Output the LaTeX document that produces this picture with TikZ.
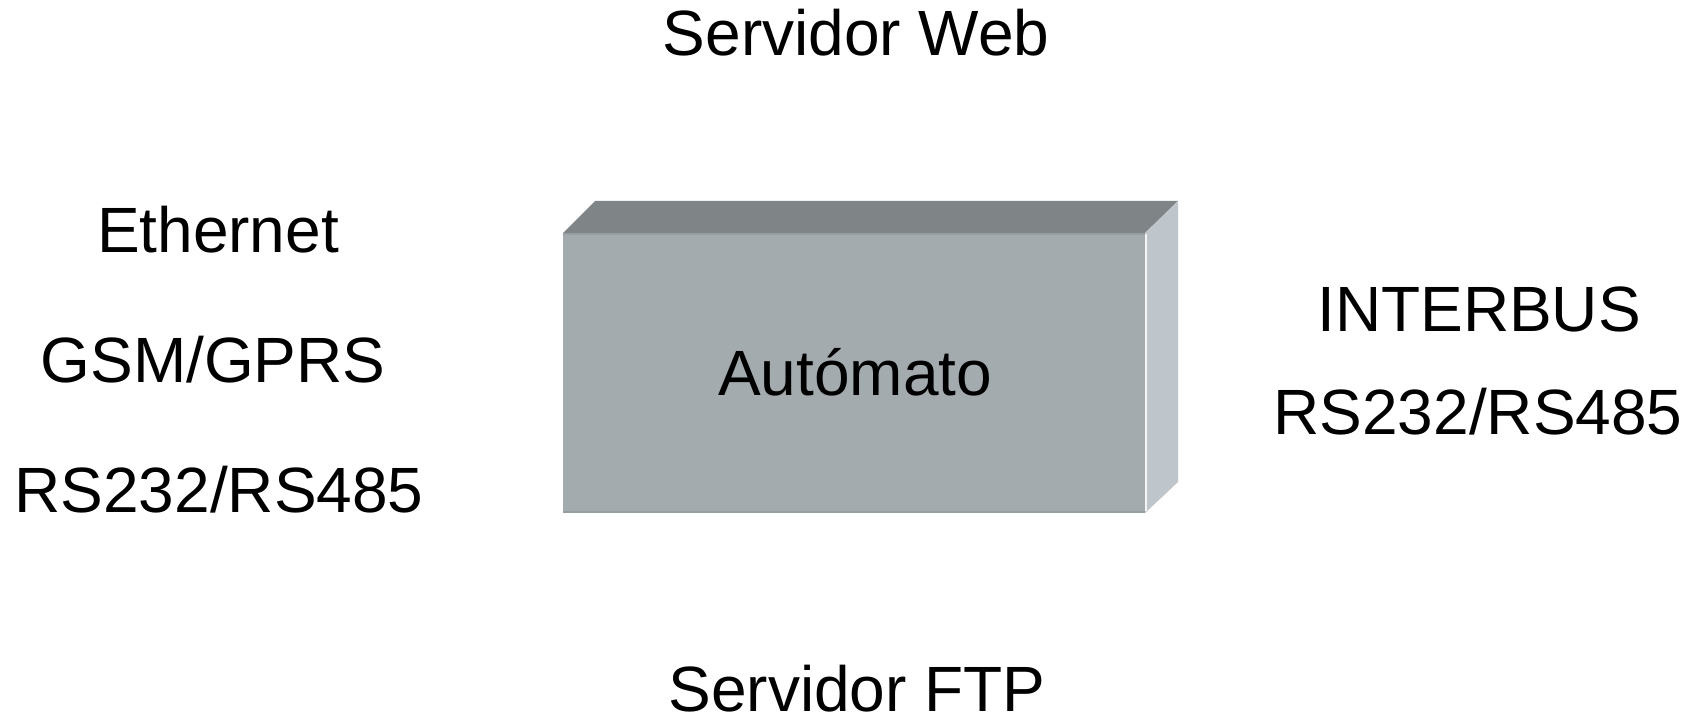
\documentclass[tikz,border=0pt]{standalone}
\usepackage{fontspec}
\setmainfont{Liberation Sans}
\definecolor{frontc}{HTML}{A4ABAE}
\definecolor{topc}{HTML}{7F8487}
\definecolor{sidec}{HTML}{BEC5CB}
\definecolor{edgec}{HTML}{979EA1}
\begin{document}
\begin{tikzpicture}[x=1pt,y=1pt,
  lbl/.style={anchor=base,inner sep=0pt,font=\fontsize{64}{64}\selectfont,text=black}]
\useasboundingbox (0,0) rectangle (1696,716);
\fill[white] (0,0) rectangle (1696,716);
% 3D box
\fill[topc] (563,483) -- (595,515) -- (1178,515) -- (1145,483) -- cycle;
\fill[sidec] (1145,483) -- (1178,515) -- (1178,234) -- (1145,203) -- cycle;
\fill[frontc] (563,203) rectangle (1145,483);
\draw[edgec,line width=2pt] (563,482) -- (1145,482);
\draw[edgec,line width=1.5pt] (563,204) -- (1145,204);
\draw[white!80!sidec,line width=1.5pt] (1146,205) -- (1146,482);
% labels
\node[lbl] (web) at (856,660) {Servidor Web};
\node[lbl] (eth) at (218,463) {Ethernet};
\node[lbl] (gsm) at (213,334) {GSM/GPRS};
\node[lbl] (rsl) at (219,204) {RS232/RS485};
\node[lbl] (aut) at (855,321) {Autómato};
\node[lbl] (ibus) at (1479,385) {INTERBUS};
\node[lbl] (rsr) at (1478,282) {RS232/RS485};
\node[lbl,text depth=0pt] (ftp) at (857,5) {Servidor FTP};
\end{tikzpicture}
\end{document}
